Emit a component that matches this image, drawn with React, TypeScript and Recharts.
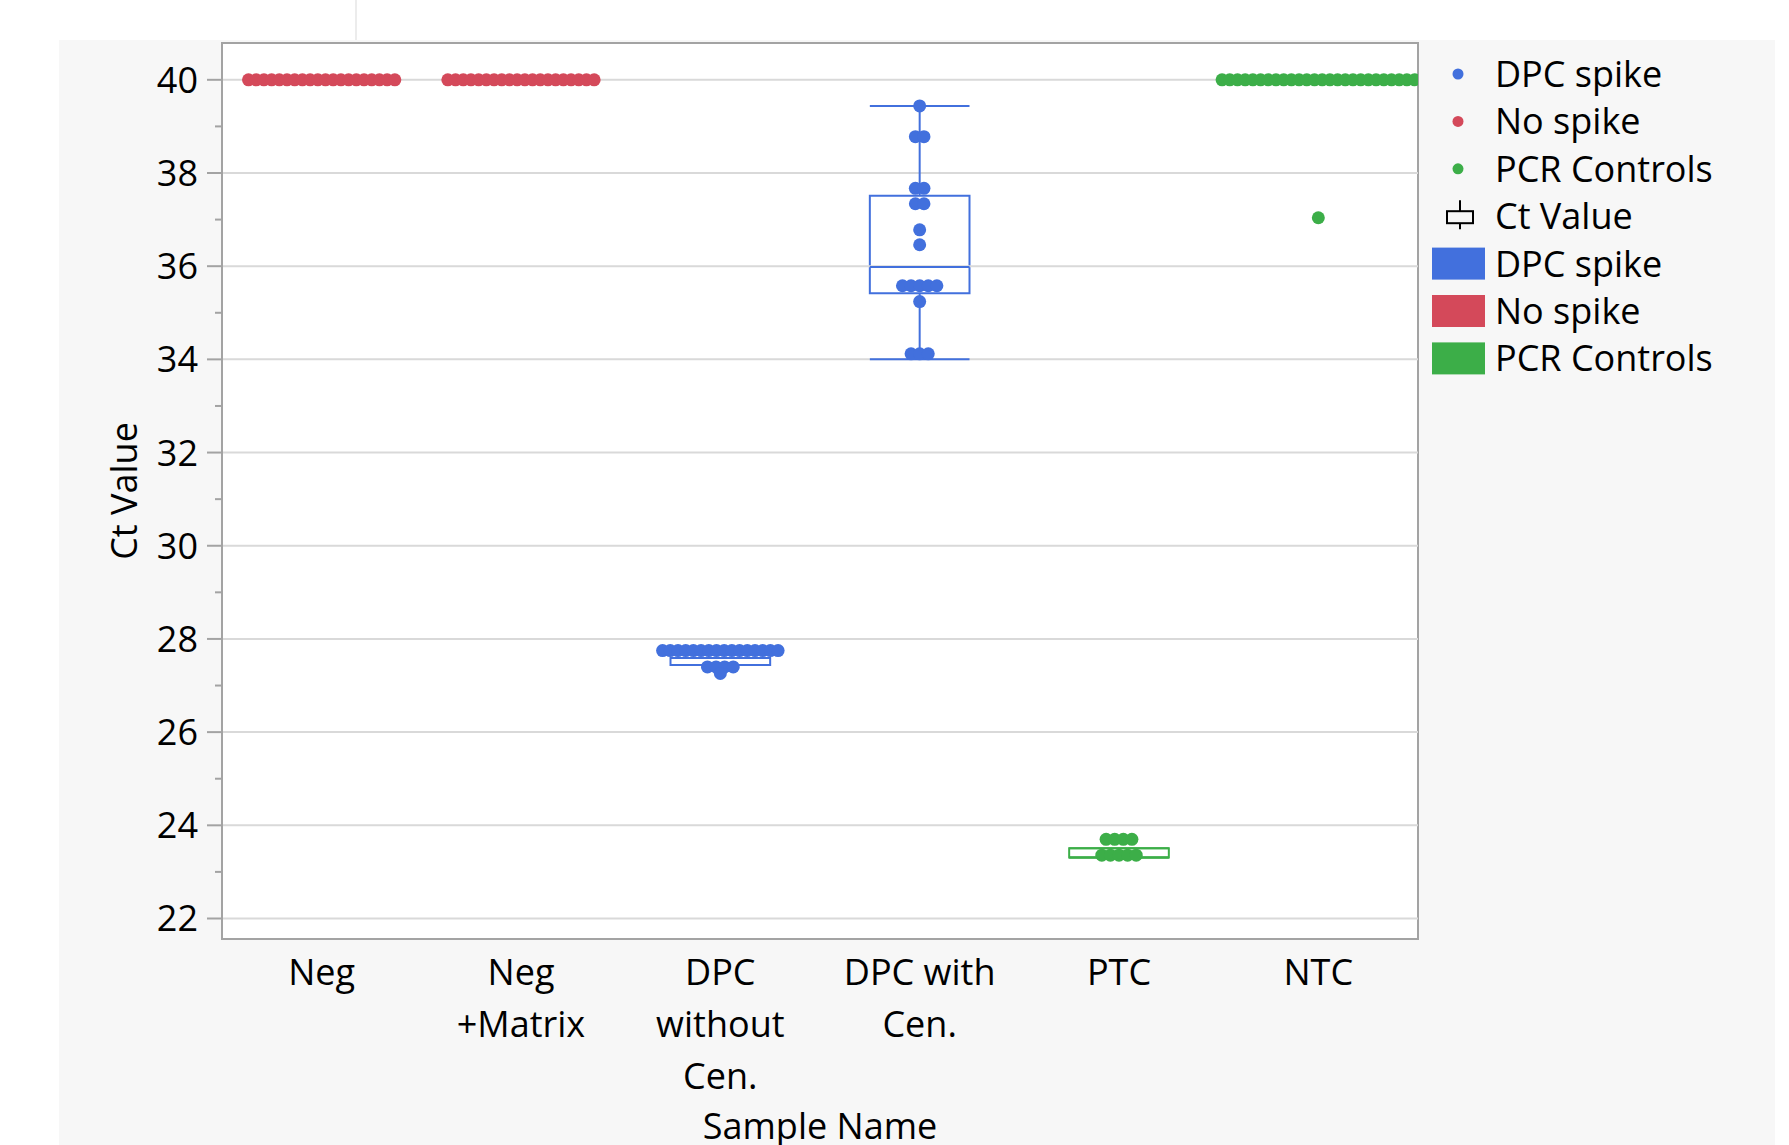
import React from 'react';
import {
  ComposedChart,
  Scatter,
  XAxis,
  YAxis,
  CartesianGrid,
  ReferenceLine,
  ReferenceArea,
  Legend,
} from 'recharts';

// categories (multi-line labels as drawn under the axis)
const CATEGORY_LINES: string[][] = [
  ['Neg'],
  ['Neg', '+Matrix'],
  ['DPC', 'without', 'Cen.'],
  ['DPC with', 'Cen.'],
  ['PTC'],
  ['NTC'],
];
const X_TICKS = [0.5, 1.5, 2.5, 3.5, 4.5, 5.5];
const Y_TICKS = [22, 23, 24, 25, 26, 27, 28, 29, 30, 31, 32, 33, 34, 35, 36, 37, 38, 39, 40];
const GRID_VALUES = [22, 24, 26, 28, 30, 32, 34, 36, 38, 40];
const Y_DOMAIN: [number, number] = [21.56, 40.79];

// Ct values per sample
const negCt = [40, 40, 40, 40, 40, 40, 40, 40, 40, 40, 40, 40, 40, 40, 40, 40, 40, 40, 40, 40];
const negMatrixCt = [40, 40, 40, 40, 40, 40, 40, 40, 40, 40, 40, 40, 40, 40, 40, 40, 40, 40, 40, 40];
const dpcWithoutCt = [
  27.75, 27.75, 27.75, 27.75, 27.75, 27.75, 27.75, 27.75, 27.75, 27.75, 27.75, 27.75, 27.75, 27.75, 27.75, 27.75,
  27.4, 27.4, 27.4, 27.4, 27.26,
];
const dpcWithCt = [
  39.44, 38.78, 38.78, 37.67, 37.67, 37.34, 37.34, 36.78, 36.46,
  35.58, 35.58, 35.58, 35.58, 35.58, 35.24, 34.12, 34.12, 34.12,
];
const ptcCt = [23.7, 23.7, 23.7, 23.7, 23.36, 23.36, 23.36, 23.36, 23.36];
const ntcCt = [
  40, 40, 40, 40, 40, 40, 40, 40, 40, 40, 40, 40, 40, 40, 40, 40, 40, 40, 40, 40, 40, 40, 40, 40, 40, 40,
  37.04,
];

// box plot summaries: DPC without Cen., DPC with Cen., PTC
const boxCategory = [2, 3, 4];
const boxLow = [27.44, 34.0, 23.31];
const boxQ1 = [27.44, 35.42, 23.31];
const boxMedian = [27.44, 35.98, 23.31];
const boxQ3 = [27.59, 37.51, 23.51];
const boxHigh = [27.59, 39.44, 23.51];
const boxColor = ['#4270dd', '#4270dd', '#3cae48'];

const BLUE = '#4270dd';
const RED = '#d4495a';
const GREEN = '#3cae48';
const AXIS = '#a3a3a3';
const FONT = 36;
const BAND_PX = 199.3;
const BOX_HALF = 0.25;

// lay equal values side by side like JMP's point layout
function swarm(values: number[], cat: number) {
  const counts = new Map<number, number>();
  values.forEach((v) => counts.set(v, (counts.get(v) ?? 0) + 1));
  const seen = new Map<number, number>();
  return values.map((v) => {
    const n = counts.get(v)!;
    const i = seen.get(v) ?? 0;
    seen.set(v, i + 1);
    const step = (n > 10 ? 7.7 : 8.6) / BAND_PX;
    return { x: cat + 0.5 + (i - (n - 1) / 2) * step, y: v };
  });
}

const redPoints = [...swarm(negCt, 0), ...swarm(negMatrixCt, 1)];
const bluePoints = [...swarm(dpcWithoutCt, 2), ...swarm(dpcWithCt, 3)];
const greenPoints = [...swarm(ptcCt, 4), ...swarm(ntcCt, 5)];

const dot = (color: string) => (p: any) => <circle cx={p.cx} cy={p.cy} r={6.5} fill={color} />;

function YTick(props: any) {
  const { x, y, payload } = props;
  const major = payload.value % 2 === 0;
  return (
    <g>
      <line x1={x - (major ? 15 : 7)} x2={x} y1={y} y2={y} stroke={AXIS} strokeWidth={2} />
      {major && (
        <text x={x - 24} y={y + 13} textAnchor="end" fontSize={FONT} fill="#000">
          {payload.value}
        </text>
      )}
    </g>
  );
}

function XTick(props: any) {
  const { x, y, payload } = props;
  const lines = CATEGORY_LINES[Math.floor(payload.value)] ?? [];
  return (
    <text x={x} y={y} textAnchor="middle" fontSize={FONT} fill="#000">
      {lines.map((l, i) => (
        <tspan key={i} x={x} y={y + 46 + i * 52}>
          {l}
        </tspan>
      ))}
    </text>
  );
}

function YTitle(props: any) {
  const vb = props.viewBox ?? { x: 0, y: 43, width: 222, height: 896 };
  const cx = 137;
  const cy = vb.y + vb.height / 2;
  return (
    <text x={cx} y={cy} transform={`rotate(-90 ${cx} ${cy})`} textAnchor="middle" fontSize={FONT} fill="#000">
      Ct Value
    </text>
  );
}

const legendDots = [
  { label: 'DPC spike', color: BLUE },
  { label: 'No spike', color: RED },
  { label: 'PCR Controls', color: GREEN },
];

function LegendBox() {
  const rowY = (i: number) => 34 + i * 47.4;
  return (
    <svg width={369} height={360}>
      {legendDots.map((d, i) => (
        <g key={'d' + i}>
          <circle cx={38} cy={rowY(i)} r={5.5} fill={d.color} />
          <text x={75} y={rowY(i) + 13} fontSize={FONT} fill="#000">{d.label}</text>
        </g>
      ))}
      <g>
        <line x1={40} x2={40} y1={rowY(3) - 16} y2={rowY(3) + 13} stroke="#000" strokeWidth={2} />
        <rect x={27} y={rowY(3) - 5} width={26} height={12} fill="#f7f7f7" stroke="#000" strokeWidth={2} />
        <text x={75} y={rowY(3) + 13} fontSize={FONT} fill="#000">Ct Value</text>
      </g>
      {legendDots.map((d, i) => (
        <g key={'s' + i}>
          <rect x={12} y={rowY(i + 4) - 16} width={53} height={32} fill={d.color} />
          <text x={75} y={rowY(i + 4) + 13} fontSize={FONT} fill="#000">{d.label}</text>
        </g>
      ))}
    </svg>
  );
}

export default function App() {
  return (
    <div
      style={{
        position: 'absolute',
        left: 0,
        top: 0,
        width: 1789,
        height: 1145,
        background: '#fff',
        overflow: 'hidden',
        fontFamily: "'Open Sans', 'Noto Sans', sans-serif",
      }}
    >
      <div style={{ position: 'absolute', left: 355, top: 0, width: 2, height: 40, background: '#ececec' }} />
      <div style={{ position: 'absolute', left: 59, top: 40, width: 1716, height: 1105, background: '#f7f7f7' }} />
      <div style={{ position: 'absolute', left: 0, top: 0 }}>
        <ComposedChart width={1789} height={1145} margin={{ top: 43, right: 371, bottom: 0, left: 0 }}>
          <CartesianGrid horizontal={false} vertical={false} fill="#fff" />
          {GRID_VALUES.map((v) => (
            <ReferenceLine key={v} y={v} stroke="#d9d9d9" strokeWidth={2} />
          ))}
          <XAxis
            type="number"
            dataKey="x"
            domain={[0, 6]}
            ticks={X_TICKS}
            interval={0}
            allowDataOverflow
            height={206}
            tickSize={0}
            tickMargin={0}
            tick={<XTick />}
            axisLine={{ stroke: AXIS, strokeWidth: 2 }}
            label={{ value: 'Sample Name', position: 'insideBottom', offset: 6, fontSize: FONT, fill: '#000' }}
          />
          <YAxis
            type="number"
            dataKey="y"
            domain={Y_DOMAIN}
            ticks={Y_TICKS}
            interval={0}
            allowDataOverflow
            width={222}
            tickSize={0}
            tickMargin={0}
            tick={<YTick />}
            axisLine={{ stroke: AXIS, strokeWidth: 2 }}
            label={<YTitle />}
          />
          <ReferenceArea x1={0} x2={6} y1={Y_DOMAIN[0]} y2={Y_DOMAIN[1]} fill="none" stroke={AXIS} strokeWidth={2} />
          {boxCategory.map((c, i) => {
            const mid = c + 0.5;
            const l = mid - BOX_HALF;
            const r = mid + BOX_HALF;
            const col = boxColor[i];
            return (
              <React.Fragment key={'box' + c}>
                <ReferenceLine segment={[{ x: mid, y: boxQ3[i] }, { x: mid, y: boxHigh[i] }]} stroke={col} strokeWidth={2} />
                <ReferenceLine segment={[{ x: mid, y: boxLow[i] }, { x: mid, y: boxQ1[i] }]} stroke={col} strokeWidth={2} />
                <ReferenceLine segment={[{ x: l, y: boxHigh[i] }, { x: r, y: boxHigh[i] }]} stroke={col} strokeWidth={2} />
                <ReferenceLine segment={[{ x: l, y: boxLow[i] }, { x: r, y: boxLow[i] }]} stroke={col} strokeWidth={2} />
                <ReferenceArea x1={l} x2={r} y1={boxQ1[i]} y2={boxQ3[i]} fill="none" stroke={col} strokeWidth={2} />
                <ReferenceLine segment={[{ x: l, y: boxMedian[i] }, { x: r, y: boxMedian[i] }]} stroke={col} strokeWidth={2} />
              </React.Fragment>
            );
          })}
          <Scatter name="No spike" data={redPoints} shape={dot(RED)} isAnimationActive={false} />
          <Scatter name="DPC spike" data={bluePoints} shape={dot(BLUE)} isAnimationActive={false} />
          <Scatter name="PCR Controls" data={greenPoints} shape={dot(GREEN)} isAnimationActive={false} />
          <Legend
            layout="vertical"
            align="center"
            verticalAlign="middle"
            wrapperStyle={{ left: 1420, top: 40, width: 369, height: 360 }}
            content={() => <LegendBox />}
          />
        </ComposedChart>
      </div>
    </div>
  );
}
